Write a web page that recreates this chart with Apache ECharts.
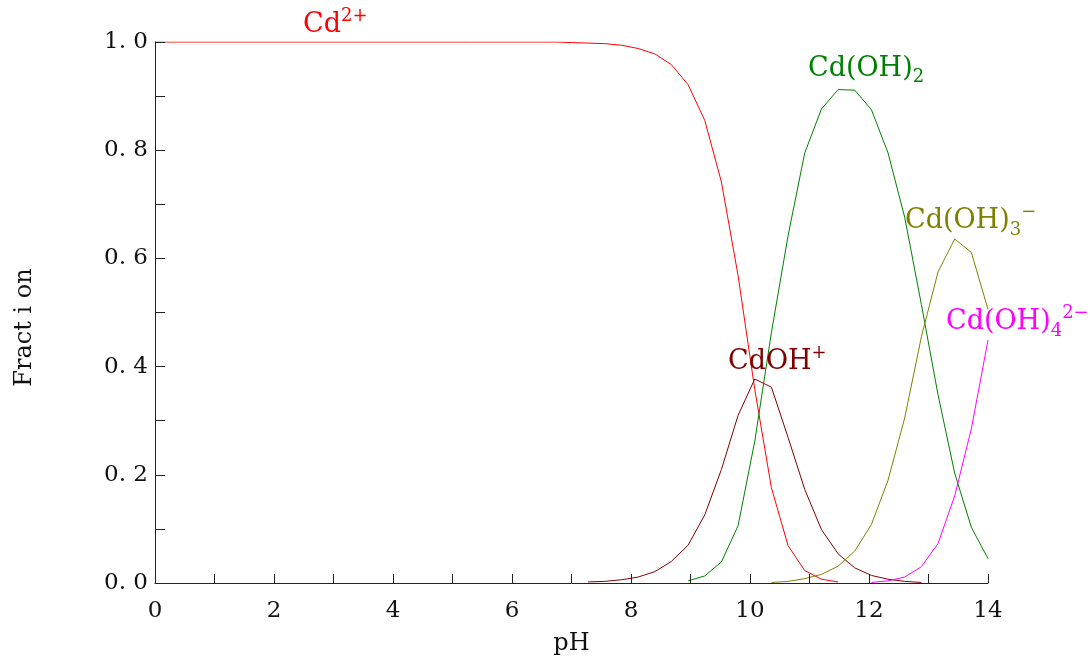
<!DOCTYPE html>
<html>
<head>
<meta charset="utf-8">
<style>
  html, body { margin: 0; padding: 0; background: #fff; }
  #chart { width: 1090px; height: 659px; }
</style>
<script src="https://cdn.jsdelivr.net/npm/echarts@6/dist/echarts.min.js"></script>
</head>
<body>
<div id="chart"></div>
<script>
// pH points (step 0.28)
var ph = [0, 0.28, 0.56, 0.84, 1.12, 1.4, 1.68, 1.96, 2.24, 2.52, 2.8, 3.08, 3.36, 3.64, 3.92,
  4.2, 4.48, 4.76, 5.04, 5.32, 5.6, 5.88, 6.16, 6.44, 6.72, 7, 7.28, 7.56, 7.84, 8.12, 8.4,
  8.68, 8.96, 9.24, 9.52, 9.8, 10.08, 10.36, 10.64, 10.92, 11.2, 11.48, 11.76, 12.04, 12.32,
  12.6, 12.88, 13.16, 13.44, 13.72, 14];

var cd = [1, 1, 1, 1, 1, 1, 1, 1, 1, 1, 1, 1, 1, 1, 1, 1, 1, 1, 1, 1, 1, 1, 1, 1, 1,
  0.999, 0.998, 0.997, 0.994, 0.988, 0.978, 0.958, 0.921, 0.855, 0.741, 0.568, 0.358, 0.176,
  0.069, 0.023, 0.007, 0.002, null, null, null, null, null, null, null, null, null];

var cdoh = [null, null, null, null, null, null, null, null, null, null, null, null, null,
  null, null, null, null, null, null, null, null, null, null, null, null, null,
  0.002, 0.003, 0.006, 0.011, 0.021, 0.040, 0.070, 0.126, 0.210, 0.310, 0.377, 0.362,
  0.269, 0.173, 0.099, 0.054, 0.028, 0.014, 0.007, 0.003, 0.001, null, null, null, null];

var cdoh2 = [null, null, null, null, null, null, null, null, null, null, null, null, null,
  null, null, null, null, null, null, null, null, null, null, null, null, null, null, null,
  null, null, null, null, 0.004, 0.013, 0.039, 0.106, 0.262, 0.463, 0.642, 0.795, 0.876,
  0.912, 0.911, 0.875, 0.795, 0.676, 0.515, 0.348, 0.203, 0.103, 0.045];

var cdoh3 = [null, null, null, null, null, null, null, null, null, null, null, null, null,
  null, null, null, null, null, null, null, null, null, null, null, null, null, null, null,
  null, null, null, null, null, null, null, null, null, 0.001, 0.003, 0.008, 0.016, 0.031,
  0.059, 0.108, 0.190, 0.305, 0.455, 0.575, 0.636, 0.611, 0.506];

var cdoh4 = [null, null, null, null, null, null, null, null, null, null, null, null, null,
  null, null, null, null, null, null, null, null, null, null, null, null, null, null, null,
  null, null, null, null, null, null, null, null, null, null, null, null, null, null, null,
  0.001, 0.004, 0.011, 0.030, 0.073, 0.161, 0.285, 0.449];

var names = ['Cd2+', 'CdOH+', 'Cd(OH)2', 'Cd(OH)3-', 'Cd(OH)4 2-'];
var colors = ['#ff0000', '#800000', '#008000', '#808000', '#ff00ff'];
var values = [cd, cdoh, cdoh2, cdoh3, cdoh4];

var serif = '"DejaVu Serif", serif';

function pairs(arr) {
  return ph.map(function (x, i) { return [x, arr[i]]; });
}

function label(x, y, color, parts) {
  var txt = parts.map(function (p) { return '{' + p[0] + '|' + p[1] + '}'; }).join('');
  return {
    type: 'text', left: x, top: y, z: 100,
    style: {
      text: txt,
      rich: {
        b: { fontSize: 27, fontFamily: serif, fill: color, lineHeight: 36, verticalAlign: 'middle' },
        sup: { fontSize: 18, fontFamily: serif, fill: color, lineHeight: 36, verticalAlign: 'top' },
        sub: { fontSize: 18, fontFamily: serif, fill: color, lineHeight: 36, verticalAlign: 'bottom' }
      }
    }
  };
}

var chart = echarts.init(document.getElementById('chart'));
chart.setOption({
  animation: false,
  backgroundColor: '#fff',
  grid: { left: 155, right: 102, top: 42, bottom: 76, outerBoundsMode: 'none' },
  xAxis: {
    type: 'value', min: 0, max: 14, interval: 2, z: 10,
    name: 'pH', nameLocation: 'middle', nameGap: 49,
    nameTextStyle: { fontFamily: serif, fontSize: 24, color: '#111' },
    axisLine: { lineStyle: { color: '#222', width: 1 } },
    axisTick: { inside: true, length: 9, lineStyle: { color: '#222' } },
    minorTick: { show: true, splitNumber: 2, length: 9, lineStyle: { color: '#222' } },
    axisLabel: { fontFamily: serif, fontSize: 23, color: '#111', margin: 17 },
    splitLine: { show: false }
  },
  yAxis: {
    type: 'value', min: 0, max: 1, interval: 0.2, z: 10,
    name: 'Fract i on', nameLocation: 'middle', nameGap: 118, nameRotate: 90,
    nameTextStyle: { fontFamily: serif, fontSize: 24, color: '#111', padding: [0, 30, 0, 0] },
    axisLine: { show: true, lineStyle: { color: '#222', width: 1 } },
    axisTick: { show: true, inside: true, length: 10, lineStyle: { color: '#222' } },
    minorTick: { show: true, splitNumber: 2, length: 10, lineStyle: { color: '#222' } },
    axisLabel: {
      fontFamily: serif, fontSize: 23, color: '#111', margin: 7,
      formatter: function (v) { return v.toFixed(1).replace('.', '. '); }
    },
    splitLine: { show: false }
  },
  series: values.map(function (arr, k) {
    return {
      name: names[k], type: 'line', data: pairs(arr), showSymbol: false,
      connectNulls: false, z: 2,
      lineStyle: { color: colors[k], width: 1 }
    };
  }),
  graphic: [
    label(303, 7, colors[0], [['b', 'Cd'], ['sup', '2+']]),
    label(728, 344, colors[1], [['b', 'CdOH'], ['sup', '+']]),
    label(808, 55, colors[2], [['b', 'Cd(OH)'], ['sub', '2']]),
    label(905, 203, colors[3], [['b', 'Cd(OH)'], ['sub', '3'], ['sup', '−']]),
    label(946, 304, colors[4], [['b', 'Cd(OH)'], ['sub', '4'], ['sup', '2−']])
  ]
});
</script>
</body>
</html>
